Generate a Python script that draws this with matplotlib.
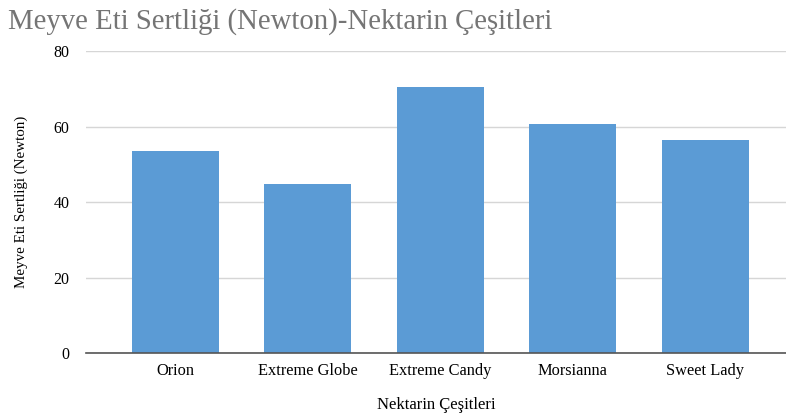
import matplotlib
matplotlib.use('Agg')
import matplotlib.pyplot as plt

# nectarine varieties and fruit firmness (Newton)
cesitler = ['Orion', 'Extreme Globe', 'Extreme Candy', 'Morsianna', 'Sweet Lady']
sertlik = [53.6, 44.9, 70.4, 60.7, 56.5]
y_ticks = [0, 20, 40, 60, 80]

plt.rcParams['font.family'] = ['Liberation Serif', 'DejaVu Serif']

fig = plt.figure(figsize=(7.86, 4.16), dpi=100)
ax = fig.add_axes([0.1094, 0.1514, 0.8906, 0.726])

x = range(len(cesitler))
ax.bar(x, sertlik, width=0.655, color='#5b9bd5', zorder=3)

ax.set_ylim(0, 80)
ax.set_xlim(-0.675, 4.61)
ax.set_yticks(y_ticks)
ax.set_xticks(list(x))
ax.set_xticklabels(cesitler, fontsize=11.8)
ax.tick_params(axis='y', labelsize=11.5, length=0, pad=12)
ax.tick_params(axis='x', length=0, pad=7)
ax.grid(axis='y', color='#d6d6d6', linewidth=1, zorder=0)

for s in ['top', 'right', 'left']:
    ax.spines[s].set_visible(False)
ax.spines['bottom'].set_color('#555555')
ax.spines['bottom'].set_linewidth(1.2)
ax.spines['bottom'].set_zorder(4)

ax.set_xlabel('Nektarin Çeşitleri', fontsize=12, labelpad=13)
ax.set_ylabel('Meyve Eti Sertliği (Newton)', fontsize=10.8, labelpad=18)

fig.text(0.01, 0.948, 'Meyve Eti Sertliği (Newton)-Nektarin Çeşitleri',
         fontsize=20.7, color='#757575', ha='left', va='center')

plt.savefig('out.png', dpi=100)
